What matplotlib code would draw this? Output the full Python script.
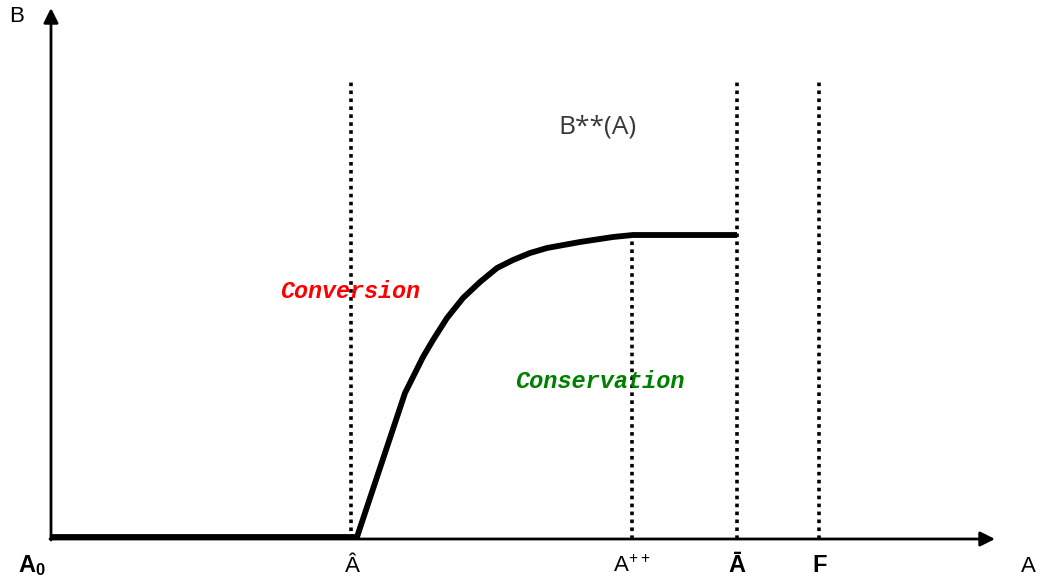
import matplotlib
matplotlib.use("Agg")
import matplotlib.pyplot as plt

# ---- data (A on horizontal axis, B on vertical axis) ----
mark_names = ["A0", "Ahat", "App", "Abar", "F"]
mark_pos = [0, 301, 581, 686, 769]
mark_labels = [r"$\mathbf{A_0}$", "Â", r"$\mathrm{A^{++}}$", "Ā", "F"]
mark_bold = [True, False, False, True, True]

# B**(A) curve
curve_A = [0, 306, 329, 346, 354, 364, 372, 382, 396, 412, 429, 446, 462, 479, 496, 529, 562, 582, 686]
curve_B = [2, 2, 71, 122, 146, 166, 182, 199, 221, 241, 257, 271, 279, 286, 291, 297, 302, 304, 304]

# vertical reference lines: x, top
vline_x = [300, 581, 686, 768]
vline_top = [460, 304, 458, 458]

plt.rcParams['mathtext.fontset'] = 'custom'
plt.rcParams['mathtext.rm'] = 'Liberation Sans'
plt.rcParams['mathtext.bf'] = 'Liberation Sans:bold'

fig = plt.figure(figsize=(10.44, 5.84), dpi=100)
ax = fig.add_axes([0, 0, 1, 1])
ax.set_xlim(-51, 993)
ax.set_ylim(-45, 539)
ax.axis("off")

# axes with arrows
ax.annotate("", xy=(0, 531), xytext=(0, -1),
            arrowprops=dict(arrowstyle="-|>", color="black", lw=2.0, mutation_scale=22, shrinkA=0, shrinkB=0))
ax.annotate("", xy=(944, 0), xytext=(-1, 0),
            arrowprops=dict(arrowstyle="-|>", color="black", lw=2.0, mutation_scale=22, shrinkA=0, shrinkB=0))

# dotted vertical lines
for x, top in zip(vline_x, vline_top):
    ax.plot([x, x], [0, top], color="black", lw=2.6, linestyle=(0, (1, 1.2)), solid_capstyle="butt")

# curve
ax.plot(curve_A, curve_B, color="black", lw=4.2, solid_capstyle="butt",
        solid_joinstyle="round")

fam = ['Liberation Sans', 'DejaVu Sans']
for x, lab, b in zip(mark_pos, mark_labels, mark_bold):
    dx = -19 if x == 0 else 0
    ax.text(x + dx, -27, lab, ha="center", va="center", fontsize=17 if b else 16,
            fontweight="bold" if b else "normal", family=fam)

ax.text(-34, 523, "B", ha="center", va="center", fontsize=16, family=fam)
ax.text(977, -27, "A", ha="center", va="center", fontsize=16, family=fam)

ax.text(546, 412, "B**(A)", ha="center", va="center", fontsize=19, color="#3a3a3a",
        family=['Open Sans', 'DejaVu Sans'])

ax.text(299, 247, "Conversion", ha="center", va="center", fontsize=16.8, color="#ff0000",
        family=['Liberation Mono'], fontweight="bold", fontstyle="italic")
ax.text(549, 157, "Conservation", ha="center", va="center", fontsize=17, color="#008000",
        family=['Liberation Mono'], fontweight="bold", fontstyle="italic")

fig.savefig("out.png", dpi=100, facecolor="white")
